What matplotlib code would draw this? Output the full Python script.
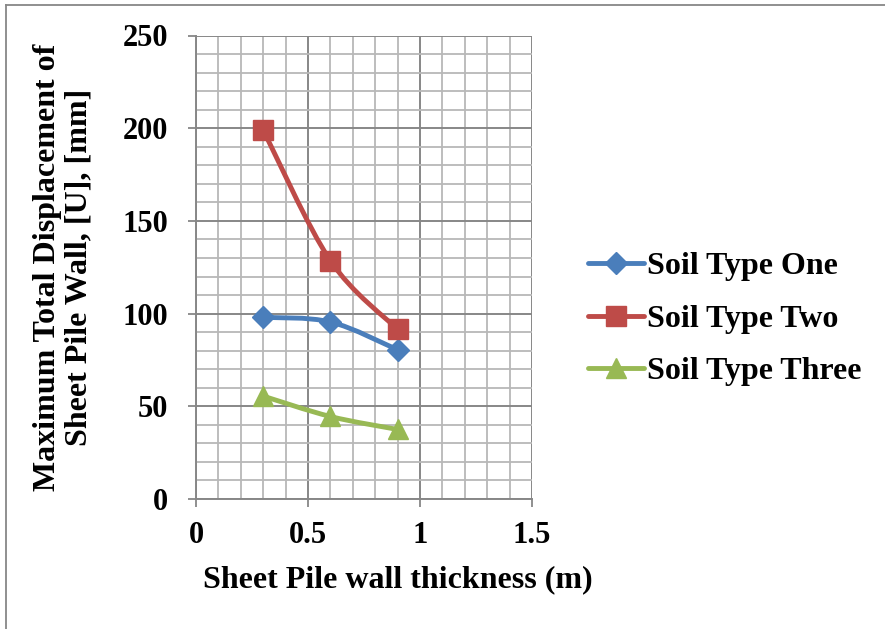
import numpy as np
import matplotlib
matplotlib.use("Agg")
import matplotlib.pyplot as plt
from matplotlib.path import Path
from matplotlib.patches import PathPatch
from matplotlib.lines import Line2D
from matplotlib.ticker import MultipleLocator

# ---- data ----
thickness = [0.3, 0.6, 0.9]
soil_one = [98.0, 95.5, 80.5]
soil_two = [199.0, 128.5, 91.5]
soil_three = [55.5, 44.5, 37.5]
series_names = ["Soil Type One", "Soil Type Two", "Soil Type Three"]
colors = ["#4A7EBB", "#BE4B48", "#98B954"]
markers = ["D", "s", "^"]
marker_sizes = [11.5, 14, 15]

x_label = "Sheet Pile wall thickness (m)"
y_label = "Maximum Total Displacement of\nSheet Pile Wall, [U], [mm]"

plt.rcParams['font.family'] = ['Liberation Serif', 'DejaVu Serif']
plt.rcParams['font.weight'] = 'bold'

fig = plt.figure(figsize=(8.85, 6.29), dpi=100)
W, H = 885, 629
ax = fig.add_axes([196 / W, 1 - 499 / H, 336 / W, 463.5 / H])

ax.set_xlim(0, 1.5)
ax.set_ylim(0, 250)
ax.xaxis.set_major_locator(MultipleLocator(0.5))
ax.xaxis.set_minor_locator(MultipleLocator(0.1))
ax.yaxis.set_major_locator(MultipleLocator(50))
ax.yaxis.set_minor_locator(MultipleLocator(10))
ax.set_xticks([0, 0.5, 1, 1.5])
ax.set_xticklabels(["0", "0.5", "1", "1.5"])

ax.grid(which='minor', color='#B8B8B8', linewidth=1.3)
ax.grid(which='major', color='#878787', linewidth=1.4)
ax.set_axisbelow(True)
for s in ax.spines.values():
    s.set_visible(False)
ax.spines['left'].set_visible(True)
ax.spines['bottom'].set_visible(True)
ax.spines['left'].set_color('#878787')
ax.spines['bottom'].set_color('#878787')
ax.spines['left'].set_linewidth(1.4)
ax.spines['bottom'].set_linewidth(1.4)
ax.tick_params(which='major', direction='out', length=6, width=1.3, color='#878787',
               labelsize=22, pad=14)
ax.tick_params(axis='x', which='major', pad=10)
ax.tick_params(which='minor', length=0)
for lbl in ax.get_xticklabels() + ax.get_yticklabels():
    lbl.set_fontweight('bold')


def smooth_path(xs, ys):
    pts = np.column_stack([xs, ys])
    n = len(pts)
    verts = [pts[0]]
    codes = [Path.MOVETO]
    for i in range(n - 1):
        p_prev = pts[i - 1] if i > 0 else pts[i]
        p0 = pts[i]
        p1 = pts[i + 1]
        p_next = pts[i + 2] if i + 2 < n else pts[i + 1]
        c1 = p0 + (p1 - p_prev) / 6.0
        c2 = p1 - (p_next - p0) / 6.0
        verts += [c1, c2, p1]
        codes += [Path.CURVE4] * 3
    return Path(verts, codes)


all_series = [soil_one, soil_two, soil_three]
handles = []
for ys, name, c, m, ms in zip(all_series, series_names, colors, markers, marker_sizes):
    patch = PathPatch(smooth_path(thickness, ys), facecolor='none', edgecolor=c,
                      linewidth=3.5, capstyle='round', joinstyle='round',
                      transform=ax.transData, zorder=3)
    ax.add_patch(patch)
    ax.plot(thickness, ys, linestyle='none', marker=m, markersize=ms,
            color=c, markeredgecolor=c, zorder=4)
    handles.append(Line2D([], [], color=c, linewidth=3.5, marker=m, markersize=ms,
                          solid_capstyle='round', markeredgecolor=c, label=name))

fig.legend(handles=handles, loc='center left', bbox_to_anchor=(588 / W, 1 - 319 / H),
           frameon=False, prop={'family': 'Liberation Serif', 'weight': 'bold', 'size': 23},
           handlelength=1.75, handletextpad=0.1, labelspacing=0.72, borderaxespad=0,
           borderpad=0)

fig.text(398 / W, 1 - 580 / H, x_label, ha='center', va='center',
         fontsize=23, fontweight='bold')
fig.text(63 / W, 1 - 267 / H, y_label, ha='center', va='center', rotation=90,
         fontsize=23, fontweight='bold', linespacing=1.12, multialignment='center')

# chart-area border (left and top visible)
fig.add_artist(Line2D([6 / W, 6 / W], [0, 1 - 5 / H], transform=fig.transFigure,
                      color='#878787', linewidth=1.3))
fig.add_artist(Line2D([6 / W, 1], [1 - 5 / H, 1 - 5 / H], transform=fig.transFigure,
                      color='#878787', linewidth=1.3))

fig.savefig("out.png", dpi=100)
